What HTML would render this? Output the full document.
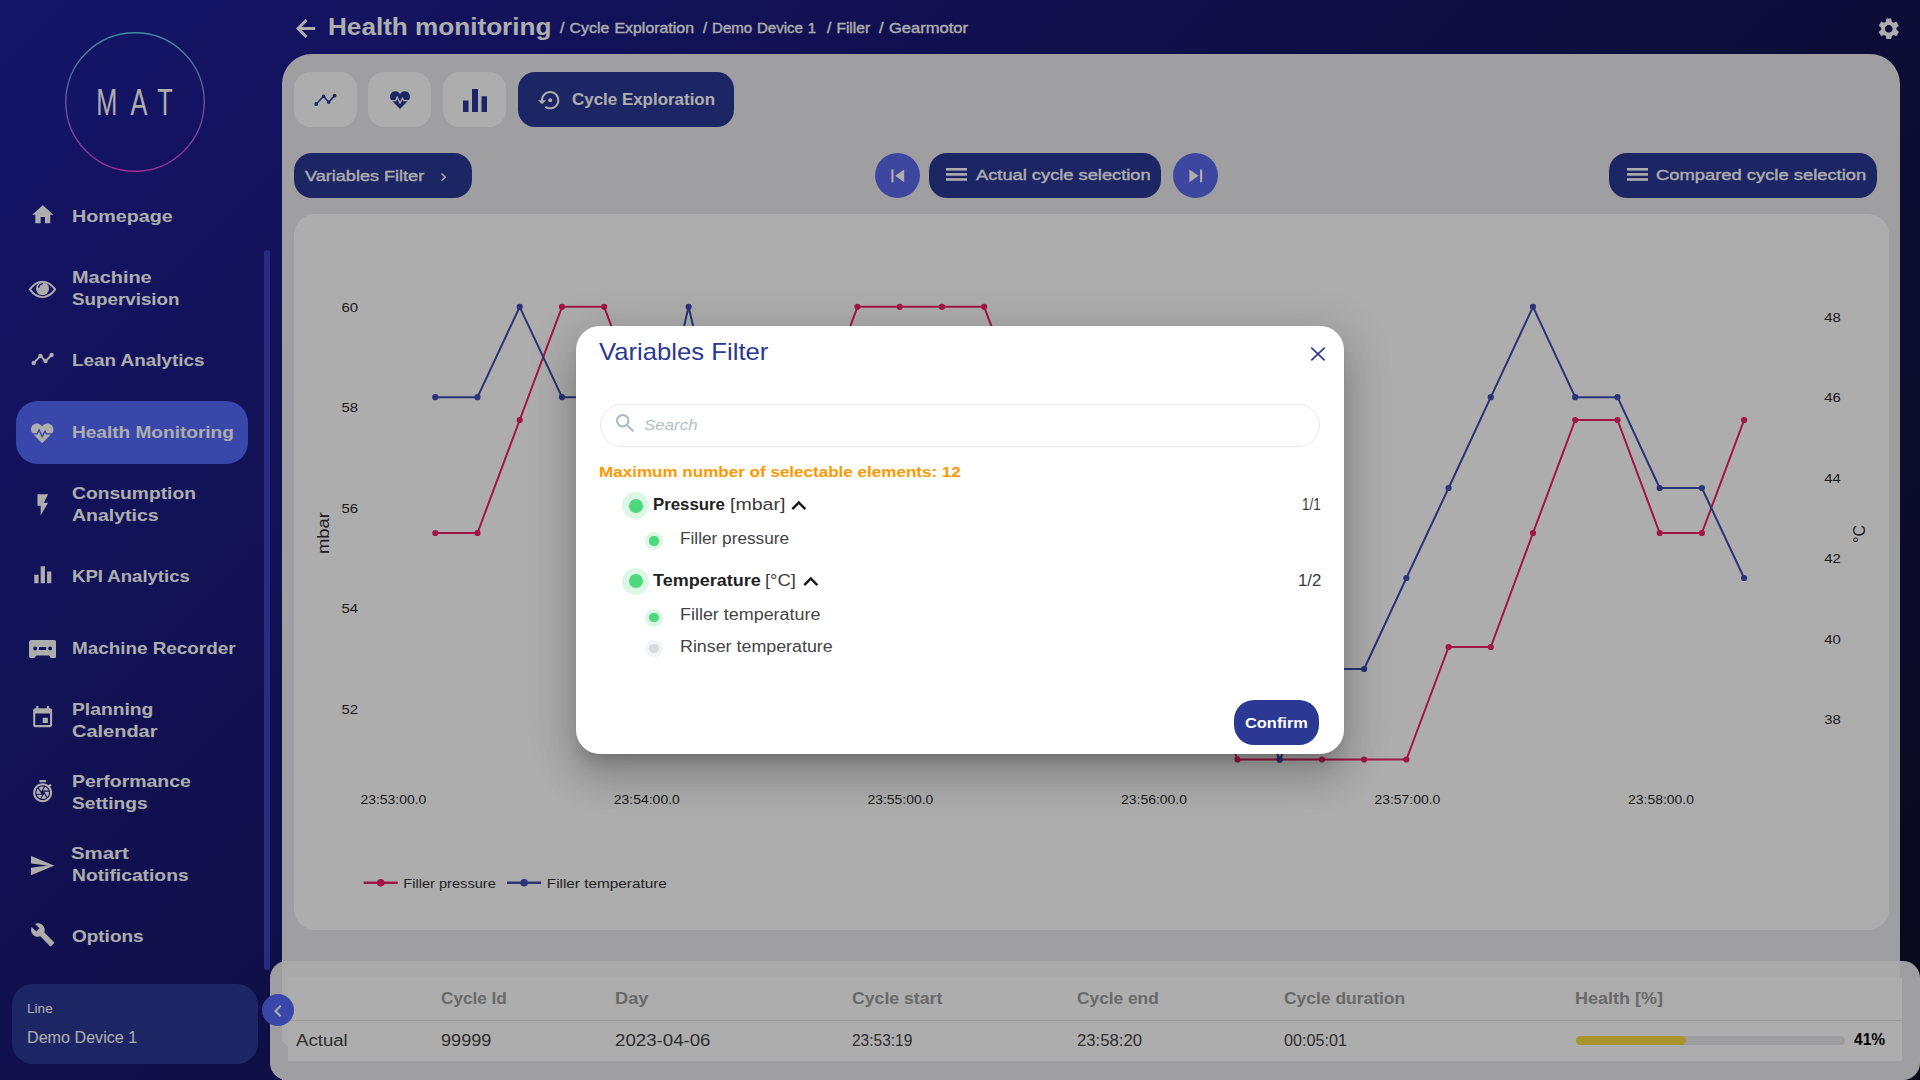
<!DOCTYPE html>
<html lang="en">
<head>
<meta charset="utf-8">
<title>Health monitoring</title>
<style>
*{box-sizing:border-box;margin:0;padding:0}
html,body{width:1920px;height:1080px;overflow:hidden}
body{font-family:"Liberation Sans",sans-serif;background:linear-gradient(135deg,#1f1f9c 0%,#0d0d27 100%);position:relative;color:#fff}
.abs{position:absolute}
svg{display:block}
.tx{position:absolute;white-space:nowrap;transform-origin:0 0}
.ic{position:absolute;fill:#fff}
.navact{position:absolute;left:16px;top:401px;width:232px;height:63px;border-radius:21.500px;background:#5568fb}
.scroll{position:absolute;left:264px;top:250px;width:6px;height:720px;border-radius:3px;background:#3a41c0}
.linebox{position:absolute;left:12px;top:984px;width:246px;height:80px;border-radius:21px;background:#2c3996}
.collapse{position:absolute;left:262px;top:994.400px;width:32px;height:32px;border-radius:50%;background:#5568fb;z-index:5}
.main{position:absolute;left:282px;top:54px;width:1618px;height:1040px;border-radius:30px 30px 0 0;background:#ebebee}
.tab{position:absolute;top:72px;width:63px;height:55px;border-radius:16.500px;background:#fff}
.tab svg{position:absolute;fill:#2c3996}
.btn{position:absolute;background:#2c3996;border-radius:18px}
.round{position:absolute;width:45px;height:45px;border-radius:50%;background:#5c69ea}
.card{position:absolute;left:294px;top:214px;width:1595px;height:716px;border-radius:21px;background:#fff}
.bottom{position:absolute;left:270px;top:961px;width:1650px;height:119px;border-radius:17px;background:#ebebee}
.bottomlight{position:absolute;left:282px;top:961px;width:1618px;height:85px;border-radius:0 0 0 8px;background:#fbfbfb}
.table{position:absolute;left:288px;top:978px;width:1614px;height:83px;background:#fff}
.overlay{position:absolute;left:0;top:0;width:1920px;height:1080px;background:rgba(0,0,0,.32);z-index:10}
.modal{position:absolute;left:576px;top:326px;width:768px;height:428px;border-radius:24px;background:#fff;z-index:20;box-shadow:0 11px 15px -7px rgba(0,0,0,.2),0 24px 38px 3px rgba(0,0,0,.14),0 9px 46px 8px rgba(0,0,0,.12)}
.m{z-index:25}
</style>
</head>
<body>
<!-- SIDEBAR -->
<svg class="abs" style="left:65px;top:32px;width:140px;height:140px" viewBox="0 0 140 140"><defs><linearGradient id="lg" x1="0" y1="0" x2="0" y2="1"><stop offset="0" stop-color="#5fd0e8"/><stop offset=".45" stop-color="#8a7fe8"/><stop offset="1" stop-color="#e83fe0"/></linearGradient></defs><circle cx="70" cy="70" r="69.200" fill="none" stroke="url(#lg)" stroke-width="1.400"/><text transform="translate(-65,-32) scale(0.690,1)" x="139.400 189.300 228" y="115" font-family="Liberation Sans, sans-serif" font-size="36.700" fill="#fff">MAT</text></svg>
<div class="navact"></div>
<svg class="ic" style="left:29.70px;top:202.20px;width:25.6px;height:25.6px" viewBox="0 0 24 24" ><path d="M10 20v-6h4v6h5v-8h3L12 3 2 12h3v8z"/></svg>
<svg class="abs" style="left:26px;top:276px;width:34px;height:26px" viewBox="26 276 34 26"><path d="M29.800 289.400C34.300 283.300 38.300 281.700 42.500 281.700S50.700 283.300 55.200 289.400C50.700 295.500 46.700 297.100 42.500 297.100S34.300 295.500 29.800 289.400Z" fill="none" stroke="#fff" stroke-width="1.900" stroke-linejoin="round"/><circle cx="42.550" cy="288.700" r="6.500" fill="#fff"/><path d="M38.700 287.300A4.500 4.500 0 0 1 42.500 283.600" fill="none" stroke="#1f1f9a" stroke-width="1.300" stroke-linecap="round"/></svg>
<svg class="ic" style="left:30px;top:350px;width:26px;height:18px" viewBox="30 350 26 18"><polyline points="33.700,363 40.500,355.900 45.500,361.100 51.600,355" fill="none" stroke="#fff" stroke-width="2" stroke-linejoin="round"/><circle cx="33.700" cy="363" r="2.200"/><circle cx="40.500" cy="355.900" r="2.200"/><circle cx="45.500" cy="361.100" r="2.200"/><circle cx="51.600" cy="355" r="2.200"/></svg>
<svg class="ic" style="left:31.300px;top:422px;width:22.400px;height:22.400px" viewBox="0 0 512 512"><path d="M320.200 243.800l-49.700 99.400c-6 12.100-23.400 11.700-28.900-.6l-56.900-126.300-30 71.700H60.600l182.500 186.500c7.100 7.300 18.600 7.300 25.700 0L451.400 288H342.300l-22.100-44.200zM473.700 73.900l-2.400-2.500c-51.500-52.600-135.800-52.600-187.400 0L256 100l-27.900-28.500c-51.500-52.700-135.900-52.700-187.400 0l-2.400 2.400C-10.400 123.700-12.500 203 31 256h102.400l35.900-86.200c5.400-12.900 23.600-13.200 29.400-.4l58.200 129.300 49-97.900c5.900-11.800 22.700-11.800 28.600 0l27.600 55.200H481c43.500-53 41.400-132.300-7.300-182.100z"/></svg>
<svg class="ic" style="left:29.50px;top:491.80px;width:25.6px;height:25.6px" viewBox="0 0 24 24" ><path d="M7 2v11h3v9l7-12h-4l4-8z"/></svg>
<svg class="ic" style="left:29.70px;top:562.20px;width:25.6px;height:25.6px" viewBox="0 0 24 24" ><path d="M10 20h4V4h-4v16zm-6 0h4v-8H4v8zM16 9v11h4V9h-4z"/></svg>
<svg class="ic" style="left:28.800px;top:639.800px;width:27.300px;height:18.200px" viewBox="0 0 27.300 18.200"><path fill-rule="evenodd" d="M2.600 0h22.100a2.600 2.600 0 0 1 2.600 2.600v13.200a2.400 2.400 0 0 1-2.400 2.400h-2.300a1.400 1.400 0 0 1-1.200-.7l-.9-1.400a1.200 1.200 0 0 0-1-.5H7.800a1.200 1.200 0 0 0-1 .5l-.9 1.400a1.400 1.400 0 0 1-1.200.7H2.400A2.400 2.400 0 0 1 0 15.800V2.600A2.600 2.600 0 0 1 2.600 0zM6.150 6.600a1.900 1.900 0 1 0 0 3.800 1.900 1.900 0 0 0 0-3.800zm15 0a1.900 1.900 0 1 0 0 3.800 1.900 1.900 0 0 0 0-3.800zM10.600 6.900a.6.600 0 0 0-.6.600v2a.6.600 0 0 0 .6.600h6.100a.6.600 0 0 0 .6-.6v-2a.6.600 0 0 0-.6-.6z"/></svg>
<svg class="ic" style="left:29.85px;top:705.35px;width:25.3px;height:25.3px" viewBox="0 0 24 24" ><path d="M17 12h-5v5h5v-5zM16 1v2H8V1H6v2H5c-1.110 0-1.990.9-1.990 2L3 19c0 1.100.890 2 2 2h14c1.100 0 2-.9 2-2V5c0-1.100-.9-2-2-2h-1V1h-2zm3 18H5V8h14v11z"/></svg>
<svg class="ic" style="left:29.9px;top:778.6px;width:25.3px;height:25.3px" viewBox="0 0 24 24" ><path d="M15 1H9v2h6V1zm4.030 6.390l1.420-1.420c-.43-.51-.9-.99-1.410-1.410l-1.420 1.420C16.070 4.740 14.120 4 12 4c-4.970 0-9 4.030-9 9s4.020 9 9 9 9-4.030 9-9c0-2.120-.74-4.070-1.970-5.610zM12 20c-3.870 0-7-3.130-7-7s3.130-7 7-7 7 3.130 7 7-3.130 7-7 7zm-.32-5H6.350c.57 1.620 1.820 2.920 3.410 3.560l-.11-.06 2.030-3.500zm5.970-4c-.57-1.600-1.780-2.890-3.340-3.540L12.260 11h5.390zm-7.040 7.830c.45.110.91.170 1.390.170 1.340 0 2.570-.45 3.570-1.190l-2.110-3.900-2.850 4.920zM7.550 8.990C6.590 10.050 6 11.460 6 13c0 .34.040.67.090 1h4.720L7.550 8.990zm8.790 8.140C17.370 16.060 18 14.600 18 13c0-.34-.04-.67-.09-1h-4.340l2.770 5.130zm-3.010-9.980C12.900 7.060 12.460 7 12 7c-1.400 0-2.690.49-3.710 1.290l2.320 3.560 2.720-4.700z"/></svg>
<svg class="ic" style="left:30.700px;top:855.800px;width:23.500px;height:19.200px" viewBox="2 3 21 18" preserveAspectRatio="none"><path d="M2.010 21L23 12 2.010 3 2 10l15 2-15 2z"/></svg>
<svg class="ic" style="left:29.95px;top:922.15px;width:25.3px;height:25.3px" viewBox="0 0 24 24" ><path d="M22.700 19l-9.100-9.100c.9-2.300.4-5-1.500-6.900-2-2-5-2.400-7.400-1.300L9 6 6 9 1.600 4.700C.4 7.100.9 10.100 2.900 12.100c1.900 1.900 4.600 2.400 6.900 1.500l9.100 9.100c.4.400 1 .400 1.400 0l2.300-2.300c.5-.4.500-1.100.1-1.400z"/></svg>
<div class="scroll"></div>
<div class="linebox"></div>

<!-- HEADER -->
<svg class="abs" style="left:290px;top:14px;width:30px;height:30px" viewBox="290 14 30 30"><path d="M306.500 20L298 28.500L306.500 37M298.600 28.500H315.200" fill="none" stroke="#fff" stroke-width="2.900" stroke-linejoin="miter"/></svg>
<svg class="ic" style="left:1875.700px;top:15.700px;width:25.600px;height:25.600px" viewBox="0 0 24 24"><path d="M19.140 12.940c.04-.3.06-.61.06-.94 0-.32-.02-.64-.07-.94l2.030-1.580c.18-.14.23-.41.12-.61l-1.920-3.320c-.12-.22-.37-.29-.59-.22l-2.390.96c-.5-.38-1.030-.7-1.620-.94l-.36-2.540c-.04-.24-.24-.41-.48-.41h-3.840c-.24 0-.43.17-.47.41l-.36 2.540c-.59.24-1.130.57-1.620.94l-2.390-.96c-.22-.08-.47 0-.59.22L2.740 8.870c-.12.210-.08.470.12.610l2.030 1.580c-.05.300-.09.630-.09.940s.02.640.07.940l-2.030 1.580c-.18.140-.23.410-.12.610l1.920 3.320c.12.220.37.290.59.220l2.390-.96c.5.380 1.030.7 1.620.94l.36 2.540c.05.240.24.410.48.410h3.840c.24 0 .44-.17.47-.41l.36-2.540c.59-.24 1.130-.56 1.620-.94l2.390.96c.22.080.47 0 .59-.22l1.920-3.320c.12-.22.07-.47-.12-.61l-2.010-1.580zM12 15.600c-1.980 0-3.600-1.620-3.600-3.600s1.620-3.600 3.600-3.600 3.600 1.620 3.600 3.600-1.620 3.600-3.600 3.600z"/></svg>

<!-- MAIN PANEL -->
<div class="main"></div>
<div class="tab" style="left:294px"><svg viewBox="314 92 24 16" style="left:20px;top:20px;width:24px;height:16px"><polyline points="316.200,104 323.600,96.200 328.700,102.300 334.600,95.600" fill="none" stroke="#2c3996" stroke-width="1.600" stroke-linejoin="round"/><circle cx="316.200" cy="104" r="1.900"/><circle cx="323.600" cy="96.200" r="1.700"/><circle cx="328.700" cy="102.300" r="1.700"/><circle cx="334.600" cy="95.600" r="1.900"/></svg></div>
<div class="tab" style="left:368px"><svg viewBox="0 0 512 512" style="left:21.500px;top:18px;width:20px;height:20px"><path d="M320.200 243.800l-49.700 99.400c-6 12.100-23.400 11.700-28.900-.6l-56.900-126.300-30 71.700H60.600l182.500 186.500c7.100 7.300 18.600 7.300 25.700 0L451.400 288H342.300l-22.100-44.200zM473.700 73.900l-2.400-2.500c-51.500-52.600-135.800-52.600-187.400 0L256 100l-27.900-28.500c-51.500-52.700-135.900-52.700-187.400 0l-2.400 2.400C-10.400 123.700-12.500 203 31 256h102.400l35.900-86.200c5.400-12.900 23.600-13.200 29.400-.4l58.200 129.300 49-97.900c5.900-11.800 22.700-11.800 28.600 0l27.600 55.200H481c43.500-53 41.400-132.300-7.300-182.100z"/></svg></div>
<div class="tab" style="left:443px"><svg viewBox="0 0 24 24" style="left:19.500px;top:16.500px;width:24px;height:23px" preserveAspectRatio="none"><path d="M0 12h5.500v12H0zM9 0h6v24H9zM18.500 7.500H24V24h-5.500z"/></svg></div>
<div class="btn" style="left:518px;top:72px;width:216px;height:55px;border-radius:17px"></div>
<svg class="ic" viewBox="0 0 24 24" style="left:538px;top:87.600px;width:24.400px;height:24.400px"><path d="M14 12c0-1.100-.9-2-2-2s-2 .9-2 2 .9 2 2 2 2-.9 2-2zm-2-9c-4.970 0-9 4.030-9 9H0l4 4 4-4H5c0-3.870 3.130-7 7-7s7 3.130 7 7-3.130 7-7 7c-1.510 0-2.910-.49-4.060-1.300l-1.420 1.440C8.040 20.300 9.940 21 12 21c4.970 0 9-4.030 9-9s-4.030-9-9-9z"/></svg>

<div class="btn" style="left:294px;top:153px;width:178px;height:45px"></div>
<svg class="ic" viewBox="8.590 6 7.410 12" style="left:441px;top:172.700px;width:5.400px;height:8.200px" preserveAspectRatio="none"><path d="M10 6L8.590 7.410 13.170 12l-4.580 4.590L10 18l6-6z"/></svg>
<div class="round" style="left:875px;top:152.750px"></div>
<svg class="ic" viewBox="0 0 24 24" style="left:884.600px;top:162.700px;width:25.600px;height:25.600px"><path d="M6 6h2v12H6zm3.500 6l8.500 6V6z"/></svg>
<div class="btn" style="left:929px;top:153px;width:232px;height:45px"></div>
<svg class="ic" style="left:945.9px;top:168px;width:21.400px;height:12.800px" viewBox="0 0 21.400 12.800"><rect x="0" y="0" width="21.400" height="2.600"/><rect x="0" y="5.100" width="21.400" height="2.600"/><rect x="0" y="10.200" width="21.400" height="2.600"/></svg>
<div class="round" style="left:1172.750px;top:152.750px"></div>
<svg class="ic" viewBox="0 0 24 24" style="left:1182.600px;top:162.700px;width:25.600px;height:25.600px"><path d="M6 18l8.500-6L6 6v12zM16 6v12h2V6h-2z"/></svg>
<div class="btn" style="left:1609px;top:153px;width:268px;height:45px"></div>
<svg class="ic" style="left:1626.5px;top:168.2px;width:21.400px;height:12.800px" viewBox="0 0 21.400 12.800"><rect x="0" y="0" width="21.400" height="2.600"/><rect x="0" y="5.100" width="21.400" height="2.600"/><rect x="0" y="10.200" width="21.400" height="2.600"/></svg>

<div class="card"></div>
<svg class="abs" style="left:0;top:0" width="1920" height="1080" viewBox="0 0 1920 1080" font-family="Liberation Sans, sans-serif" font-size="13.3" fill="#2b2b2b"><polyline points="435.3,533 477.5,533 519.7,420 562.0,306.8 604.2,306.8 646.4,420 688.6,420 730.8,533 773.1,533 815.3,420 857.5,306.8 899.7,306.8 941.9,306.8 984.2,306.8 1026.4,420 1068.6,533 1110.8,533 1153.0,647 1195.3,647 1237.5,759.5 1279.7,759.5 1321.9,759.5 1364.1,759.5 1406.4,759.5 1448.6,647 1490.8,647 1533.0,533 1575.2,420 1617.5,420 1659.7,533 1701.9,533 1744.1,420" fill="none" stroke="#ee2168" stroke-width="2" stroke-linejoin="round"/><circle cx="435.3" cy="533" r="3.1" fill="#ee2168"/><circle cx="477.5" cy="533" r="3.1" fill="#ee2168"/><circle cx="519.7" cy="420" r="3.1" fill="#ee2168"/><circle cx="562.0" cy="306.8" r="3.1" fill="#ee2168"/><circle cx="604.2" cy="306.8" r="3.1" fill="#ee2168"/><circle cx="646.4" cy="420" r="3.1" fill="#ee2168"/><circle cx="688.6" cy="420" r="3.1" fill="#ee2168"/><circle cx="730.8" cy="533" r="3.1" fill="#ee2168"/><circle cx="773.1" cy="533" r="3.1" fill="#ee2168"/><circle cx="815.3" cy="420" r="3.1" fill="#ee2168"/><circle cx="857.5" cy="306.8" r="3.1" fill="#ee2168"/><circle cx="899.7" cy="306.8" r="3.1" fill="#ee2168"/><circle cx="941.9" cy="306.8" r="3.1" fill="#ee2168"/><circle cx="984.2" cy="306.8" r="3.1" fill="#ee2168"/><circle cx="1026.4" cy="420" r="3.1" fill="#ee2168"/><circle cx="1068.6" cy="533" r="3.1" fill="#ee2168"/><circle cx="1110.8" cy="533" r="3.1" fill="#ee2168"/><circle cx="1153.0" cy="647" r="3.1" fill="#ee2168"/><circle cx="1195.3" cy="647" r="3.1" fill="#ee2168"/><circle cx="1237.5" cy="759.5" r="3.1" fill="#ee2168"/><circle cx="1279.7" cy="759.5" r="3.1" fill="#ee2168"/><circle cx="1321.9" cy="759.5" r="3.1" fill="#ee2168"/><circle cx="1364.1" cy="759.5" r="3.1" fill="#ee2168"/><circle cx="1406.4" cy="759.5" r="3.1" fill="#ee2168"/><circle cx="1448.6" cy="647" r="3.1" fill="#ee2168"/><circle cx="1490.8" cy="647" r="3.1" fill="#ee2168"/><circle cx="1533.0" cy="533" r="3.1" fill="#ee2168"/><circle cx="1575.2" cy="420" r="3.1" fill="#ee2168"/><circle cx="1617.5" cy="420" r="3.1" fill="#ee2168"/><circle cx="1659.7" cy="533" r="3.1" fill="#ee2168"/><circle cx="1701.9" cy="533" r="3.1" fill="#ee2168"/><circle cx="1744.1" cy="420" r="3.1" fill="#ee2168"/><polyline points="435.3,397.2 477.5,397.2 519.7,306.8 562.0,397.2 604.2,397.2 646.4,488 688.6,306.8 730.8,488 773.1,488 815.3,578 857.5,578 899.7,488 941.9,488 984.2,578 1026.4,578 1068.6,669 1110.8,669 1153.0,578 1195.3,669 1237.5,669 1279.7,759.5 1321.9,669 1364.1,669 1406.4,578 1448.6,488 1490.8,397.2 1533.0,306.8 1575.2,397.2 1617.5,397.2 1659.7,488 1701.9,488 1744.1,578" fill="none" stroke="#3f4db0" stroke-width="2" stroke-linejoin="round"/><circle cx="435.3" cy="397.2" r="3.1" fill="#3f4db0"/><circle cx="477.5" cy="397.2" r="3.1" fill="#3f4db0"/><circle cx="519.7" cy="306.8" r="3.1" fill="#3f4db0"/><circle cx="562.0" cy="397.2" r="3.1" fill="#3f4db0"/><circle cx="604.2" cy="397.2" r="3.1" fill="#3f4db0"/><circle cx="646.4" cy="488" r="3.1" fill="#3f4db0"/><circle cx="688.6" cy="306.8" r="3.1" fill="#3f4db0"/><circle cx="730.8" cy="488" r="3.1" fill="#3f4db0"/><circle cx="773.1" cy="488" r="3.1" fill="#3f4db0"/><circle cx="815.3" cy="578" r="3.1" fill="#3f4db0"/><circle cx="857.5" cy="578" r="3.1" fill="#3f4db0"/><circle cx="899.7" cy="488" r="3.1" fill="#3f4db0"/><circle cx="941.9" cy="488" r="3.1" fill="#3f4db0"/><circle cx="984.2" cy="578" r="3.1" fill="#3f4db0"/><circle cx="1026.4" cy="578" r="3.1" fill="#3f4db0"/><circle cx="1068.6" cy="669" r="3.1" fill="#3f4db0"/><circle cx="1110.8" cy="669" r="3.1" fill="#3f4db0"/><circle cx="1153.0" cy="578" r="3.1" fill="#3f4db0"/><circle cx="1195.3" cy="669" r="3.1" fill="#3f4db0"/><circle cx="1237.5" cy="669" r="3.1" fill="#3f4db0"/><circle cx="1279.7" cy="759.5" r="3.1" fill="#3f4db0"/><circle cx="1321.9" cy="669" r="3.1" fill="#3f4db0"/><circle cx="1364.1" cy="669" r="3.1" fill="#3f4db0"/><circle cx="1406.4" cy="578" r="3.1" fill="#3f4db0"/><circle cx="1448.6" cy="488" r="3.1" fill="#3f4db0"/><circle cx="1490.8" cy="397.2" r="3.1" fill="#3f4db0"/><circle cx="1533.0" cy="306.8" r="3.1" fill="#3f4db0"/><circle cx="1575.2" cy="397.2" r="3.1" fill="#3f4db0"/><circle cx="1617.5" cy="397.2" r="3.1" fill="#3f4db0"/><circle cx="1659.7" cy="488" r="3.1" fill="#3f4db0"/><circle cx="1701.9" cy="488" r="3.1" fill="#3f4db0"/><circle cx="1744.1" cy="578" r="3.1" fill="#3f4db0"/><text x="358" y="311.7" text-anchor="end" textLength="16.6" lengthAdjust="spacingAndGlyphs">60</text><text x="358" y="411.7" text-anchor="end" textLength="16.6" lengthAdjust="spacingAndGlyphs">58</text><text x="358" y="512.7" text-anchor="end" textLength="16.6" lengthAdjust="spacingAndGlyphs">56</text><text x="358" y="612.7" text-anchor="end" textLength="16.6" lengthAdjust="spacingAndGlyphs">54</text><text x="358" y="713.7" text-anchor="end" textLength="16.6" lengthAdjust="spacingAndGlyphs">52</text><text x="1824.2" y="321.7" textLength="16.6" lengthAdjust="spacingAndGlyphs">48</text><text x="1824.2" y="401.7" textLength="16.6" lengthAdjust="spacingAndGlyphs">46</text><text x="1824.2" y="482.7" textLength="16.6" lengthAdjust="spacingAndGlyphs">44</text><text x="1824.2" y="562.7" textLength="16.6" lengthAdjust="spacingAndGlyphs">42</text><text x="1824.2" y="643.7" textLength="16.6" lengthAdjust="spacingAndGlyphs">40</text><text x="1824.2" y="723.7" textLength="16.6" lengthAdjust="spacingAndGlyphs">38</text><text x="360.4" y="804" textLength="66" lengthAdjust="spacingAndGlyphs">23:53:00.0</text><text x="613.8" y="804" textLength="66" lengthAdjust="spacingAndGlyphs">23:54:00.0</text><text x="867.4" y="804" textLength="66" lengthAdjust="spacingAndGlyphs">23:55:00.0</text><text x="1121" y="804" textLength="66" lengthAdjust="spacingAndGlyphs">23:56:00.0</text><text x="1374.4" y="804" textLength="66" lengthAdjust="spacingAndGlyphs">23:57:00.0</text><text x="1628" y="804" textLength="66" lengthAdjust="spacingAndGlyphs">23:58:00.0</text><text transform="translate(329.2,533) rotate(-90)" text-anchor="middle" font-size="16" textLength="42" lengthAdjust="spacingAndGlyphs">mbar</text><text transform="translate(1865.2,534) rotate(-90)" text-anchor="middle" font-size="16">°C</text><line x1="363.7" y1="882.8" x2="397.8" y2="882.8" stroke="#ee2168" stroke-width="2.6"/><circle cx="380.7" cy="882.8" r="3.8" fill="#ee2168"/><text x="403.3" y="887.8" fill="#333" textLength="92.5" lengthAdjust="spacingAndGlyphs">Filler pressure</text><line x1="507" y1="882.8" x2="541.2" y2="882.8" stroke="#3f4db0" stroke-width="2.6"/><circle cx="524.1" cy="882.8" r="3.8" fill="#3f4db0"/><text x="546.8" y="887.8" fill="#333" textLength="120" lengthAdjust="spacingAndGlyphs">Filler temperature</text></svg>
<div class="bottom"></div>
<div class="bottomlight"></div>
<div class="table">
<div class="abs" style="left:0;top:42px;width:1614px;height:1px;background:#e4e4e4"></div>
<div class="abs" style="left:1288px;top:58px;width:269px;height:9px;border-radius:5px;background:#e9e9ec"></div>
<div class="abs" style="left:1288px;top:58px;width:110px;height:9px;border-radius:5px;background:#fbdc41"></div>
</div>
<div class="collapse"><svg viewBox="0 0 24 24" style="width:24px;height:24px;margin:4.400px 4.100px;fill:#fff"><path d="M15.410 7.410L14 6l-6 6 6 6 1.410-1.410L10.830 12z"/></svg></div>
<div class="overlay"></div>
<div class="modal"></div>
<svg class="abs m" viewBox="0 0 16 16" style="left:1310px;top:346px;width:16px;height:16px"><path d="M1.300 1.600L14.700 14.400M14.700 1.600L1.300 14.400" stroke="#2b3894" stroke-width="1.700" fill="none"/></svg>
<div class="abs m" style="left:600px;top:403.500px;width:720px;height:43px;border-radius:22px;border:1px solid #e7e9ec"></div>
<svg class="abs m" viewBox="0 0 24 24" style="left:612.900px;top:411.200px;width:24.700px;height:24.700px;fill:#a9bac5"><path d="M15.500 14h-.79l-.28-.27C15.410 12.590 16 11.110 16 9.500 16 5.910 13.090 3 9.500 3S3 5.910 3 9.500 5.910 16 9.500 16c1.610 0 3.090-.59 4.230-1.570l.27.28v.79l5 4.990L20.490 19l-4.990-5zm-6 0C7.010 14 5 11.990 5 9.500S7.010 5 9.500 5 14 7.010 14 9.500 11.990 14 9.500 14z"/></svg>
<div class="abs m" style="left:622.1px;top:492.0px;width:27.0px;height:27.0px;border-radius:50%;background:#dcf7e6"></div><div class="abs m" style="left:628.6px;top:498.5px;width:14px;height:14px;border-radius:50%;background:#4cd97b"></div>
<div class="abs m" style="left:645px;top:532px;width:18px;height:18px;border-radius:50%;background:#dcf7e6"></div><div class="abs m" style="left:649.4px;top:536.4px;width:9.2px;height:9.2px;border-radius:50%;background:#4cd97b"></div>
<div class="abs m" style="left:622.1px;top:567.9px;width:27.0px;height:27.0px;border-radius:50%;background:#dcf7e6"></div><div class="abs m" style="left:628.6px;top:574.4px;width:14px;height:14px;border-radius:50%;background:#4cd97b"></div>
<div class="abs m" style="left:645px;top:608.9px;width:18px;height:18px;border-radius:50%;background:#dcf7e6"></div><div class="abs m" style="left:649.4px;top:613.3px;width:9.2px;height:9.2px;border-radius:50%;background:#4cd97b"></div>
<div class="abs m" style="left:645px;top:639.6px;width:18px;height:18px;border-radius:50%;background:#f1f3f5"></div><div class="abs m" style="left:649.4px;top:644.0px;width:9.2px;height:9.2px;border-radius:50%;background:#d5dade"></div>
<svg class="abs m" viewBox="0 0 24 24" style="left:783.800px;top:491.300px;width:29.600px;height:29.600px;fill:#1a1a1a"><path d="M12 8l-6 6 1.410 1.410L12 10.830l4.590 4.580L18 14z"/></svg>
<svg class="abs m" viewBox="0 0 24 24" style="left:795.600px;top:567.400px;width:29.600px;height:29.600px;fill:#1a1a1a"><path d="M12 8l-6 6 1.410 1.410L12 10.830l4.590 4.580L18 14z"/></svg>
<div class="abs m" style="left:1234px;top:700px;width:85px;height:44.800px;border-radius:20px;background:#2b3894"></div>

<div class="tx" id="n1" style="left:71.52px;top:205.91px;font-size:17.0px;line-height:22px;font-weight:700;color:#fff;transform:scaleX(1.1581);">Homepage</div>
<div class="tx" id="n2a" style="left:71.51px;top:266.61px;font-size:17.0px;line-height:22px;font-weight:700;color:#fff;transform:scaleX(1.1714);">Machine</div>
<div class="tx" id="n2b" style="left:71.57px;top:288.91px;font-size:17.0px;line-height:22px;font-weight:700;color:#fff;transform:scaleX(1.1053);">Supervision</div>
<div class="tx" id="n3" style="left:71.57px;top:349.91px;font-size:17.0px;line-height:22px;font-weight:700;color:#fff;transform:scaleX(1.1106);">Lean Analytics</div>
<div class="tx" id="n4" style="left:71.56px;top:421.91px;font-size:17.0px;line-height:22px;font-weight:700;color:#fff;transform:scaleX(1.1204);">Health Monitoring</div>
<div class="tx" id="n5a" style="left:71.55px;top:482.61px;font-size:17.0px;line-height:22px;font-weight:700;color:#fff;transform:scaleX(1.1311);">Consumption</div>
<div class="tx" id="n5b" style="left:71.53px;top:504.91px;font-size:17.0px;line-height:22px;font-weight:700;color:#fff;transform:scaleX(1.1461);">Analytics</div>
<div class="tx" id="n6" style="left:71.59px;top:565.91px;font-size:17.0px;line-height:22px;font-weight:700;color:#fff;transform:scaleX(1.0907);">KPI Analytics</div>
<div class="tx" id="n7" style="left:71.57px;top:637.91px;font-size:17.0px;line-height:22px;font-weight:700;color:#fff;transform:scaleX(1.1097);">Machine Recorder</div>
<div class="tx" id="n8a" style="left:71.54px;top:698.61px;font-size:17.0px;line-height:22px;font-weight:700;color:#fff;transform:scaleX(1.1328);">Planning</div>
<div class="tx" id="n8b" style="left:71.50px;top:720.91px;font-size:17.0px;line-height:22px;font-weight:700;color:#fff;transform:scaleX(1.1752);">Calendar</div>
<div class="tx" id="n9a" style="left:71.53px;top:770.61px;font-size:17.0px;line-height:22px;font-weight:700;color:#fff;transform:scaleX(1.1433);">Performance</div>
<div class="tx" id="n9b" style="left:71.55px;top:792.91px;font-size:17.0px;line-height:22px;font-weight:700;color:#fff;transform:scaleX(1.1273);">Settings</div>
<div class="tx" id="n10a" style="left:71.48px;top:842.61px;font-size:17.0px;line-height:22px;font-weight:700;color:#fff;transform:scaleX(1.1983);">Smart</div>
<div class="tx" id="n10b" style="left:71.54px;top:864.91px;font-size:17.0px;line-height:22px;font-weight:700;color:#fff;transform:scaleX(1.1327);">Notifications</div>
<div class="tx" id="n11" style="left:71.56px;top:925.91px;font-size:17.0px;line-height:22px;font-weight:700;color:#fff;transform:scaleX(1.1145);">Options</div>
<div class="tx" id="l1" style="left:27.08px;top:1000.06px;font-size:13.4px;line-height:17px;font-weight:400;color:#fff;transform:scaleX(1.0160);">Line</div>
<div class="tx" id="l2" style="left:26.53px;top:1026.96px;font-size:16px;line-height:21px;font-weight:400;color:#fff;transform:scaleX(1.0079);">Demo Device 1</div>
<div class="tx" id="h1" style="left:327.83px;top:10.51px;font-size:24.5px;line-height:32px;font-weight:700;color:#fff;transform:scaleX(1.0660);">Health monitoring</div>
<div class="tx" id="b1" style="left:560.25px;top:17.80px;font-size:15px;line-height:20px;font-weight:400;color:#fff;transform:scaleX(1.0596);-webkit-text-stroke:.35px currentColor;word-spacing:.7px;">/ Cycle Exploration</div>
<div class="tx" id="b2" style="left:703.30px;top:17.80px;font-size:15px;line-height:20px;font-weight:400;color:#fff;transform:scaleX(1.0010);-webkit-text-stroke:.35px currentColor;word-spacing:.7px;">/ Demo Device 1</div>
<div class="tx" id="b3" style="left:826.56px;top:17.80px;font-size:15px;line-height:20px;font-weight:400;color:#fff;transform:scaleX(1.0391);-webkit-text-stroke:.35px currentColor;word-spacing:.7px;">/ Filler</div>
<div class="tx" id="b4" style="left:879.01px;top:17.80px;font-size:15px;line-height:20px;font-weight:400;color:#fff;transform:scaleX(1.1022);-webkit-text-stroke:.35px currentColor;word-spacing:.7px;">/ Gearmotor</div>
<div class="tx" id="tb1" style="left:572.28px;top:88.69px;font-size:16.2px;line-height:21px;font-weight:700;color:#fff;transform:scaleX(1.0461);">Cycle Exploration</div>
<div class="tx" id="tb2" style="left:304.82px;top:165.60px;font-size:15.3px;line-height:20px;font-weight:400;color:#fff;transform:scaleX(1.1812);-webkit-text-stroke:.35px currentColor;">Variables Filter</div>
<div class="tx" id="tb3" style="left:975.50px;top:165.30px;font-size:15.3px;line-height:20px;font-weight:400;color:#fff;transform:scaleX(1.1945);-webkit-text-stroke:.35px currentColor;">Actual cycle selection</div>
<div class="tx" id="tb4" style="left:1655.60px;top:165.30px;font-size:15.3px;line-height:20px;font-weight:400;color:#fff;transform:scaleX(1.2001);-webkit-text-stroke:.35px currentColor;">Compared cycle selection</div>
<div class="tx" id="th1" style="left:440.97px;top:988.21px;font-size:16px;line-height:21px;font-weight:700;color:#9b9b9b;transform:scaleX(1.0725);">Cycle Id</div>
<div class="tx" id="th2" style="left:615.16px;top:988.21px;font-size:16px;line-height:21px;font-weight:700;color:#9b9b9b;transform:scaleX(1.1389);">Day</div>
<div class="tx" id="th3" style="left:852.34px;top:988.21px;font-size:16px;line-height:21px;font-weight:700;color:#9b9b9b;transform:scaleX(1.1038);">Cycle start</div>
<div class="tx" id="th4" style="left:1076.76px;top:988.21px;font-size:16px;line-height:21px;font-weight:700;color:#9b9b9b;transform:scaleX(1.0818);">Cycle end</div>
<div class="tx" id="th5" style="left:1284.25px;top:988.21px;font-size:16px;line-height:21px;font-weight:700;color:#9b9b9b;transform:scaleX(1.0905);">Cycle duration</div>
<div class="tx" id="th6" style="left:1575.02px;top:988.21px;font-size:16px;line-height:21px;font-weight:700;color:#9b9b9b;transform:scaleX(1.1243);">Health [%]</div>
<div class="tx" id="td0" style="left:296.38px;top:1030.21px;font-size:16px;line-height:21px;font-weight:400;color:#454545;transform:scaleX(1.1634);">Actual</div>
<div class="tx" id="td1" style="left:441.41px;top:1030.21px;font-size:16px;line-height:21px;font-weight:400;color:#454545;transform:scaleX(1.1332);">99999</div>
<div class="tx" id="td2" style="left:615.13px;top:1030.21px;font-size:16px;line-height:21px;font-weight:400;color:#454545;transform:scaleX(1.1667);">2023-04-06</div>
<div class="tx" id="td3" style="left:852.47px;top:1030.21px;font-size:16px;line-height:21px;font-weight:400;color:#454545;transform:scaleX(0.9692);">23:53:19</div>
<div class="tx" id="td4" style="left:1076.80px;top:1030.21px;font-size:16px;line-height:21px;font-weight:400;color:#454545;transform:scaleX(1.0454);">23:58:20</div>
<div class="tx" id="td5" style="left:1284.33px;top:1030.21px;font-size:16px;line-height:21px;font-weight:400;color:#454545;transform:scaleX(1.0098);">00:05:01</div>
<div class="tx" id="td6" style="left:1853.87px;top:1029.46px;font-size:16px;line-height:21px;font-weight:700;color:#000;transform:scaleX(0.9697);">41%</div>
<div class="tx" id="m1" style="left:599.16px;top:336.38px;font-size:24px;line-height:31px;font-weight:400;color:#2b3894;transform:scaleX(1.0701);z-index:30;">Variables Filter</div>
<div class="tx" id="m2" style="left:644.18px;top:414.83px;font-size:15.5px;line-height:20px;font-weight:400;color:#b3c1ca;transform:scaleX(1.0917);font-style:italic;z-index:30;">Search</div>
<div class="tx" id="m3" style="left:599.38px;top:461.67px;font-size:15.1px;line-height:20px;font-weight:700;color:#ff9800;transform:scaleX(1.1292);z-index:30;">Maximum number of selectable elements: 12</div>
<div class="tx" id="m4" style="left:653.49px;top:493.75px;font-size:16.3px;line-height:21px;font-weight:700;color:#222;transform:scaleX(1.0318);z-index:30;">Pressure</div>
<div class="tx" id="m4b" style="left:729.53px;top:493.75px;font-size:16.3px;line-height:21px;font-weight:400;color:#3a3a3a;transform:scaleX(1.2014);z-index:30;">[mbar]</div>
<div class="tx" id="m5" style="left:1302.20px;top:493.85px;font-size:16.3px;line-height:21px;font-weight:400;color:#3a3a3a;transform:scaleX(0.8219);z-index:30;">1/1</div>
<div class="tx" id="m6" style="left:680.17px;top:527.76px;font-size:16px;line-height:21px;font-weight:400;color:#444;transform:scaleX(1.0760);z-index:30;">Filler pressure</div>
<div class="tx" id="m7" style="left:653.42px;top:569.65px;font-size:16.3px;line-height:21px;font-weight:700;color:#222;transform:scaleX(1.1051);z-index:30;">Temperature</div>
<div class="tx" id="m7b" style="left:765.29px;top:569.65px;font-size:16.3px;line-height:21px;font-weight:400;color:#3a3a3a;transform:scaleX(1.1312);z-index:30;">[°C]</div>
<div class="tx" id="m8" style="left:1297.69px;top:569.65px;font-size:16.3px;line-height:21px;font-weight:400;color:#3a3a3a;transform:scaleX(1.0298);z-index:30;">1/2</div>
<div class="tx" id="m9" style="left:680.12px;top:603.96px;font-size:16px;line-height:21px;font-weight:400;color:#444;transform:scaleX(1.1202);z-index:30;">Filler temperature</div>
<div class="tx" id="m10" style="left:680.13px;top:635.76px;font-size:16px;line-height:21px;font-weight:400;color:#444;transform:scaleX(1.1153);z-index:30;">Rinser temperature</div>
<div class="tx" id="m11" style="left:1244.82px;top:712.63px;font-size:15.5px;line-height:20px;font-weight:700;color:#fff;transform:scaleX(1.0580);z-index:30;">Confirm</div>
</body>
</html>
